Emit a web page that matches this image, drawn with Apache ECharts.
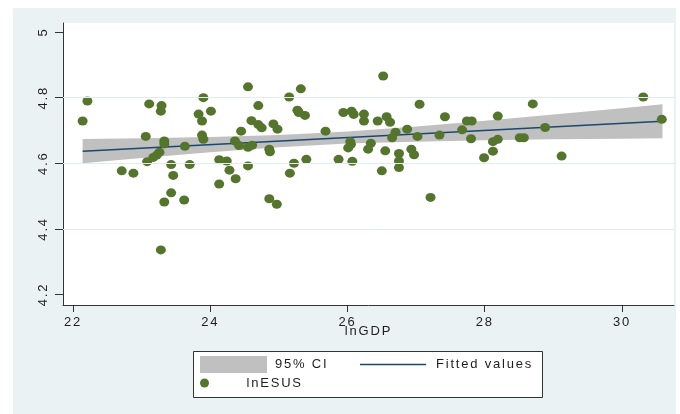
<!DOCTYPE html>
<html><head><meta charset="utf-8">
<script src="https://cdn.jsdelivr.net/npm/echarts@6/dist/echarts.min.js"></script>
<style>html,body{margin:0;padding:0;background:#fff}#c{width:680px;height:414px}</style>
</head><body><div id="c"></div>
<script>
// ---- data ----
const xTicks = [22, 24, 26, 28, 30];
const yTicks = [4.2, 4.4, 4.6, 4.8, 5];
const gridValues = [4.4, 4.6, 4.8];

const lnGDP = [
  22.21, 22.14, 23.11, 23.29, 23.28, 23.06, 23.33, 23.33, 23.26, 23.22,
  23.17, 23.08, 22.71, 22.88, 23.43, 23.46, 23.43, 23.33, 23.62, 23.63,
  23.70, 23.90, 24.01, 23.83, 23.88, 23.88, 23.90, 24.13, 24.24, 24.13,
  23.28, 24.28, 24.37, 24.55, 24.70, 24.55, 24.45, 24.60, 24.70, 24.75,
  24.92, 24.98, 24.86, 24.97, 25.15, 25.32, 25.27, 25.29, 25.38, 24.86,
  24.87, 25.16, 25.22, 25.40, 24.36, 24.42, 24.55, 24.61, 25.68, 25.94,
  26.06, 26.09, 26.24, 26.24, 26.04, 26.05, 26.01, 25.87, 26.07, 26.30,
  26.34, 26.44, 26.52, 27.05, 27.42, 26.57, 26.62, 27.74, 27.81, 28.19,
  26.87, 26.70, 26.65, 27.02, 27.34, 27.67, 27.80, 26.55, 26.75, 26.93,
  26.97, 26.75, 26.75, 26.50, 27.21, 27.99, 28.12, 28.12, 28.19, 28.51,
  28.57, 28.70, 30.31, 28.88, 29.12, 30.58
];
const lnESUS = [
  4.790, 4.729, 4.781, 4.776, 4.759, 4.682, 4.668, 4.659, 4.634, 4.625,
  4.618, 4.605, 4.577, 4.570, 4.596, 4.563, 4.510, 4.482, 4.488, 4.652,
  4.596, 4.800, 4.759, 4.750, 4.729, 4.686, 4.673, 4.611, 4.607, 4.537,
  4.336, 4.579, 4.553, 4.833, 4.776, 4.592, 4.698, 4.730, 4.718, 4.708,
  4.720, 4.704, 4.492, 4.475, 4.802, 4.827, 4.762, 4.755, 4.746, 4.643,
  4.635, 4.570, 4.600, 4.612, 4.668, 4.654, 4.649, 4.655, 4.698, 4.755,
  4.759, 4.749, 4.750, 4.729, 4.666, 4.658, 4.647, 4.612, 4.606, 4.643,
  4.661, 4.729, 4.866, 4.780, 4.742, 4.742, 4.725, 4.729, 4.729, 4.744,
  4.704, 4.695, 4.678, 4.682, 4.686, 4.702, 4.675, 4.638, 4.630, 4.643,
  4.626, 4.607, 4.587, 4.577, 4.496, 4.617, 4.637, 4.666, 4.673, 4.678,
  4.678, 4.781, 4.802, 4.709, 4.622, 4.734
];

const fitX = [22.14, 30.59];
const fitY = [4.637, 4.728];

const ciX    = [22.14, 23, 24, 25, 26, 27, 28, 29, 30, 30.59];
const ciHigh = [4.674, 4.676, 4.680, 4.686, 4.697, 4.712, 4.730, 4.749, 4.768, 4.780];
const ciLow  = [4.600, 4.616, 4.634, 4.649, 4.660, 4.666, 4.670, 4.673, 4.675, 4.676];

// ---- styling ----
const FONT = '"Liberation Sans", Arial, sans-serif';
const TXT = '#1e1e1e';
const BG = '#EAF2F3';
const SPACING = '1.8px';
const txtStyle = {fontFamily: FONT, fontSize: 13, color: TXT, lineHeight: 15};

// Stata-like letter spacing: make text measuring aware of it
try {
  const mc = document.createElement('canvas').getContext('2d');
  if ('letterSpacing' in mc) {
    mc.letterSpacing = SPACING;
    echarts.setPlatformAPI({
      measureText: function (text, font) {
        mc.font = font || '12px sans-serif';
        return mc.measureText(text);
      }
    });
  }
} catch (e) {}

const chart = echarts.init(document.getElementById('c'), null, {renderer: 'canvas'});

const option = {
  animation: false,
  backgroundColor: '#ffffff',
  graphic: [
    {type: 'rect', z: -10, shape: {x: 13, y: 8, width: 663, height: 406}, style: {fill: BG}},
    {type: 'rect', z: -9, shape: {x: 63, y: 23, width: 611, height: 282}, style: {fill: '#ffffff'}},
    {type: 'rect', z: -9, shape: {x: 193.5, y: 351.5, width: 349, height: 46}, style: {fill: '#ffffff', stroke: '#333333', lineWidth: 1}}
  ],
  grid: {left: 63, top: 23, width: 611, height: 282, containLabel: false},
  xAxis: {
    type: 'value', min: 21.854, max: 30.758,
    axisLine: {show: true, onZero: false, lineStyle: {color: '#333333', width: 1}},
    axisTick: {show: true, customValues: xTicks, length: 7, lineStyle: {color: '#333333'}},
    axisLabel: {customValues: xTicks, margin: 10, fontFamily: FONT, fontSize: 13, color: TXT},
    splitLine: {show: false},
    name: 'lnGDP', nameLocation: 'middle', nameGap: 20, nameMoveOverlap: false,
    nameTextStyle: {fontFamily: FONT, fontSize: 13, color: TXT, lineHeight: 13}
  },
  yAxis: {
    type: 'value', min: 4.168, max: 5.0277,
    axisLine: {show: true, onZero: false, lineStyle: {color: '#333333', width: 1}},
    axisTick: {show: true, customValues: yTicks, length: 8, lineStyle: {color: '#333333'}},
    axisLabel: {customValues: yTicks, rotate: 90, margin: 12, fontFamily: FONT, fontSize: 13, color: TXT},
    splitLine: {show: false}
  },
  legend: [
    {data: [{name: '95% CI', icon: 'rect'}], left: 200, top: 356, itemWidth: 67, itemHeight: 17,
     padding: 0, selectedMode: false, textStyle: Object.assign({padding: [0, 0, 0, 3]}, txtStyle)},
    {data: [{name: 'Fitted values', icon: 'path://M0,0 H66 V1.5 H0 Z'}], left: 360, top: 357, itemWidth: 66, itemHeight: 14,
     padding: 0, selectedMode: false, textStyle: Object.assign({padding: [0, 0, 0, 5]}, txtStyle)},
    {data: [{name: 'lnESUS', icon: 'circle'}], left: 200, top: 375.5, itemWidth: 66, itemHeight: 9,
     padding: 0, selectedMode: false, textStyle: Object.assign({padding: [0, 0, 0, 4]}, txtStyle)}
  ],
  series: [
    {
      type: 'line', name: 'gridlines', data: [], silent: true, z: 0,
      markLine: {
        silent: true, symbol: 'none', label: {show: false}, animation: false,
        lineStyle: {color: '#e2ebee', width: 1, type: 'solid'},
        data: gridValues.map(v => ({yAxis: v}))
      }
    },
    {
      type: 'custom', name: '95% CI', z: 1, silent: true,
      itemStyle: {color: '#c0c0c0'},
      data: ciX.map((x, i) => [x, ciLow[i], ciHigh[i]]),
      encode: {x: 0, y: [1, 2]},
      renderItem: function (params, api) {
        if (params.dataIndex !== 0) return null;
        const pts = [];
        for (let i = 0; i < ciX.length; i++) pts.push(api.coord([ciX[i], ciHigh[i]]));
        for (let i = ciX.length - 1; i >= 0; i--) pts.push(api.coord([ciX[i], ciLow[i]]));
        return {type: 'polygon', shape: {points: pts}, style: {fill: '#c0c0c0'}};
      }
    },
    {
      type: 'line', name: 'Fitted values', z: 3, silent: true,
      symbol: 'none', showSymbol: false,
      data: fitX.map((x, i) => [x, fitY[i]]),
      lineStyle: {color: '#1A476F', width: 1.5},
      itemStyle: {color: '#1A476F'}
    },
    {
      type: 'scatter', name: 'lnESUS', z: 4, silent: true,
      symbol: 'circle', symbolSize: [10, 9],
      data: lnGDP.map((x, i) => [x, lnESUS[i]]),
      itemStyle: {color: '#55752F', opacity: 1}
    }
  ]
};
chart.setOption(option);
// apply letter spacing on the drawing canvas (created on first paint), then redraw
try {
  chart.getZr().flush && chart.getZr().flush();
  const cvs = document.querySelectorAll('#c canvas');
  let applied = false;
  cvs.forEach(function (cv) {
    const ctx = cv.getContext('2d');
    if (ctx && 'letterSpacing' in ctx) { ctx.letterSpacing = SPACING; applied = true; }
  });
  if (applied) { chart.clear(); chart.setOption(option); }
} catch (e) {}
</script>
</body></html>
